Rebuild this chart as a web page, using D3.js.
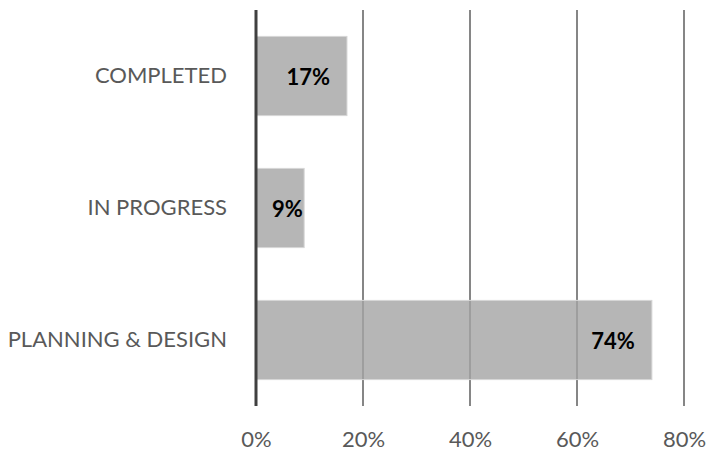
<!DOCTYPE html>
<html>
<head>
<meta charset="utf-8">
<script src="https://cdn.jsdelivr.net/npm/d3@7"></script>
<style>
  html, body { margin: 0; padding: 0; background: #fff; }
  svg { display: block; }
</style>
</head>
<body>
<svg id="chart" width="718" height="452"></svg>
<script>
// Project status shares
const categories = ["COMPLETED", "IN PROGRESS", "PLANNING & DESIGN"];
const shares = [17, 9, 74];
const tickValues = [0, 20, 40, 60, 80];
const tickLabels = ["0%", "20%", "40%", "60%", "80%"];

const svg = d3.select("#chart");
const font = "Lato, 'Open Sans', sans-serif";

const x = d3.scaleLinear().domain([0, 80]).range([256, 684]);
const y = d3.scaleBand().domain(categories).range([10, 406])
  .paddingInner(0.4).paddingOuter(0.2);

// vertical gridlines
svg.append("g").selectAll("line")
  .data(tickValues.filter(v => v > 0))
  .join("line")
  .attr("x1", d => x(d)).attr("x2", d => x(d))
  .attr("y1", 10).attr("y2", 406)
  .attr("stroke", "#868686").attr("stroke-width", 2);

// bars
svg.append("g").selectAll("rect")
  .data(categories)
  .join("rect")
  .attr("x", x(0))
  .attr("y", d => y(d))
  .attr("width", (d, i) => x(shares[i]) - x(0))
  .attr("height", y.bandwidth())
  .attr("fill", "#a4a4a4")
  .attr("fill-opacity", 0.8)
  .attr("stroke", "#d6d6d6")
  .attr("stroke-width", 1);

// zero axis line
svg.append("line")
  .attr("x1", x(0)).attr("x2", x(0))
  .attr("y1", 10).attr("y2", 406)
  .attr("stroke", "#404040").attr("stroke-width", 3);

// bottom tick labels
const xAxis = d3.axisBottom(x).tickValues(tickValues)
  .tickFormat((d, i) => tickLabels[i]).tickSize(0).tickPadding(0);
const gx = svg.append("g").attr("transform", "translate(0,431)").call(xAxis);
gx.select(".domain").remove();
gx.selectAll("text")
  .attr("dy", "0.71em")
  .attr("font-family", font).attr("font-size", 22)
  .attr("fill", "#595959");

// category labels
const yAxis = d3.axisLeft(y).tickSize(0).tickPadding(0);
const gy = svg.append("g").attr("transform", "translate(227,0)").call(yAxis);
gy.select(".domain").remove();
gy.selectAll("text")
  .attr("font-family", font).attr("font-size", 22)
  .attr("fill", "#595959");

// value labels inside the bar ends
svg.append("g").selectAll("text")
  .data(categories)
  .join("text")
  .attr("y", d => y(d) + y.bandwidth() / 2)
  .attr("dy", "0.4em")
  .attr("text-anchor", "end")
  .attr("font-family", font).attr("font-size", 22)
  .attr("font-weight", "bold")
  .attr("fill", "#000")
  .text((d, i) => shares[i] + "%")
  .attr("x", function (d, i) {
    const w = this.getComputedTextLength();
    return Math.max(x(shares[i]) - 17, x(0) + 16 + w);
  });
</script>
</body>
</html>
